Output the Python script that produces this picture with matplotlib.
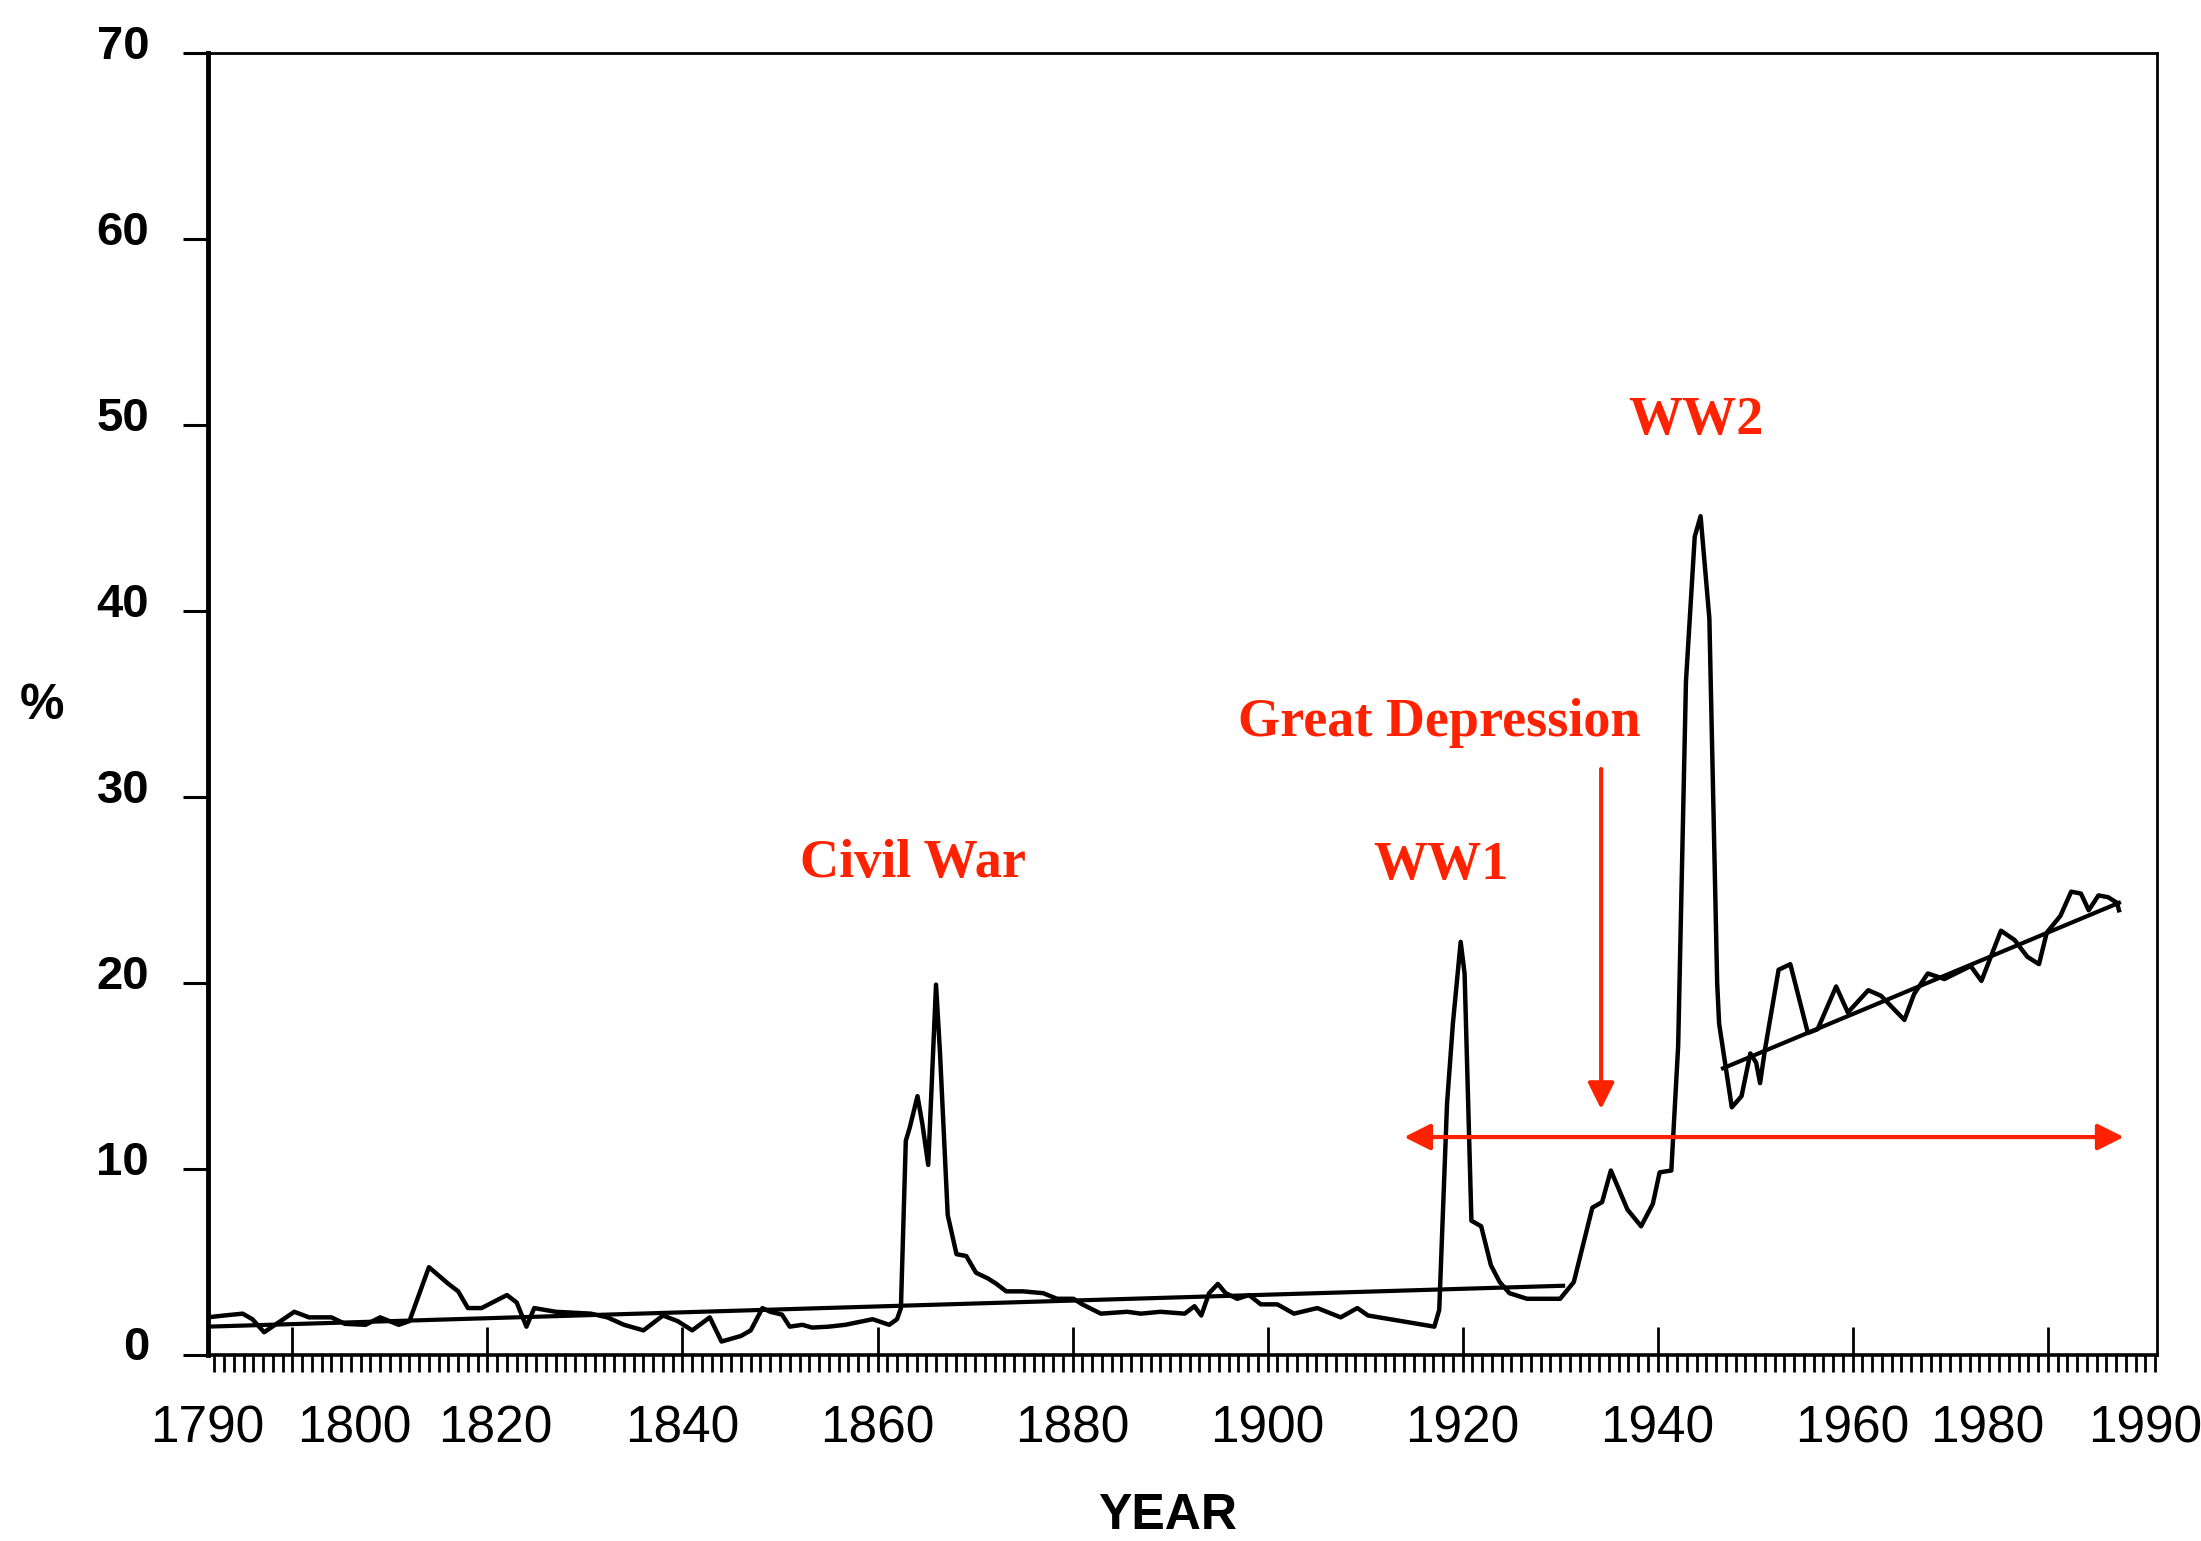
import matplotlib
matplotlib.use("Agg")
import matplotlib.pyplot as plt
from matplotlib.ticker import MultipleLocator, FixedLocator
from matplotlib.transforms import ScaledTranslation

# government spending share
years = [1791.3, 1793, 1794.9, 1795.9, 1797.1, 1800.2, 1801.7, 1804, 1805.4, 1807.5,
         1809, 1810.9, 1812, 1814, 1816, 1817, 1818, 1819.4, 1822, 1823,
         1824, 1824.8, 1827, 1830.6, 1832.3, 1834, 1836, 1838, 1839.5, 1841,
         1842.8, 1844, 1846, 1847, 1848.2, 1849, 1850.2, 1851, 1852.3, 1853.3,
         1855, 1856.7, 1859.5, 1861.2, 1862, 1862.4, 1862.9, 1863.3, 1864.1, 1864.6,
         1865.2, 1866.0, 1866.4, 1867.2, 1868.1, 1869.1, 1870.1, 1871.3, 1872.2, 1873.2,
         1874.9, 1877, 1878.4, 1880.1, 1881, 1882.9, 1885.6, 1887, 1889, 1891.5,
         1892.5, 1893.2, 1894, 1894.9, 1895.7, 1896.9, 1898.1, 1899.3, 1901, 1902.7,
         1905.1, 1907.5, 1909.2, 1910.3, 1913.7, 1917.1, 1917.6, 1918.4, 1919, 1919.8,
         1920.2, 1920.9, 1921.9, 1922.9, 1923.8, 1924.8, 1926.6, 1930, 1931.4, 1932.4,
         1933.3, 1934.3, 1935.2, 1936.9, 1938.3, 1939.5, 1940.2, 1941.4, 1942.1, 1942.9,
         1943.8, 1944.4, 1945.3, 1946.1, 1946.3, 1947.6, 1948.6, 1949.5, 1950.1, 1950.5,
         1951, 1952.4, 1953.6, 1955.4, 1956.4, 1958.3, 1959.5, 1961.6, 1962.9, 1965.3,
         1966.3, 1967.7, 1969.4, 1972.1, 1973.2, 1975.2, 1976.6, 1977.9, 1979.1, 1979.9,
         1981.3, 1982.4, 1983.4, 1984.2, 1985.2, 1986.2, 1987.1, 1987.3]
share = [2.0, 2.1, 2.2, 1.9, 1.2, 2.3, 2.0, 2.0, 1.65, 1.6,
         2.0, 1.6, 1.8, 4.7, 3.8, 3.4, 2.5, 2.5, 3.2, 2.8,
         1.5, 2.5, 2.3, 2.2, 2.0, 1.6, 1.3, 2.1, 1.8, 1.3,
         2.0, 0.7, 1.0, 1.3, 2.5, 2.3, 2.15, 1.5, 1.6, 1.45,
         1.5, 1.6, 1.9, 1.6, 1.9, 2.5, 11.5, 12.2, 13.9, 12.4,
         10.2, 19.9, 16.3, 7.5, 5.4, 5.3, 4.4, 4.1, 3.8, 3.4,
         3.4, 3.3, 3.0, 3.0, 2.7, 2.2, 2.3, 2.2, 2.3, 2.2,
         2.6, 2.1, 3.3, 3.8, 3.3, 3.0, 3.2, 2.7, 2.7, 2.2,
         2.5, 2.0, 2.5, 2.1, 1.8, 1.5, 2.4, 13.5, 17.8, 22.2,
         20.5, 7.2, 6.9, 4.8, 3.9, 3.3, 3.0, 3.0, 3.9, 6.0,
         7.9, 8.2, 9.9, 7.8, 6.9, 8.1, 9.8, 9.9, 16.6, 36.2,
         44.0, 45.1, 39.6, 20.0, 17.8, 13.3, 13.9, 16.2, 15.7, 14.6,
         16.4, 20.7, 21.0, 17.3, 17.5, 19.8, 18.4, 19.6, 19.3, 18.0,
         19.4, 20.5, 20.2, 20.9, 20.1, 22.8, 22.3, 21.4, 21.0, 22.7,
         23.6, 24.9, 24.8, 23.9, 24.7, 24.6, 24.3, 23.9]

trend_early_years = [1791.3, 1930.3]
trend_early = [1.5, 3.7]
trend_late_years = [1946.7, 1987.3]
trend_late = [15.4, 24.3]

# the printed year labels sit a little off their ticks in the original
label_years = [1791.3, 1806.4, 1820.8, 1840, 1860, 1880, 1900, 1920, 1940, 1960, 1973.8, 1990]
label_text = ["1790", "1800", "1820", "1840", "1860", "1880", "1900", "1920",
              "1940", "1960", "1980", "1990"]

events = ["Civil War", "WW1", "Great Depression", "WW2"]
event_x = [1863.6, 1917.8, 1917.6, 1943.9]
event_y = [26.4, 26.3, 34.0, 50.2]

RED = "#ff2200"

plt.rcParams["font.family"] = ["Liberation Sans", "DejaVu Sans"]

fig = plt.figure(figsize=(22.01, 15.41), dpi=100)
ax = fig.add_axes([0.0943, 0.121, 0.8857, 0.8444])

ax.plot(years, share, color="black", lw=3.2, solid_joinstyle="round")
ax.plot(trend_early_years, trend_early, color="black", lw=3.0)
ax.plot(trend_late_years, trend_late, color="black", lw=3.0)

ax.set_xlim(1791.3, 1991.2)
ax.set_ylim(0, 70)

# y axis
ax.set_yticks(range(0, 71, 10))
ax.tick_params(axis="y", direction="out", length=18, width=2.2, pad=24,
               labelsize=34)
for lab in ax.get_yticklabels():
    lab.set_fontweight("bold")
    lab.set_transform(lab.get_transform() + ScaledTranslation(0, 8 / 72, fig.dpi_scale_trans))

# x axis: yearly ticks below, 20-year ticks pointing up
ax.xaxis.set_major_locator(FixedLocator(range(1800, 1981, 20)))
ax.xaxis.set_minor_locator(MultipleLocator(1))
ax.xaxis.remove_overlapping_locs = False
ax.tick_params(axis="x", which="major", direction="in", length=20, width=2.0,
               labelbottom=False)
ax.tick_params(axis="x", which="minor", direction="out", length=12, width=2.0)

sec = ax.secondary_xaxis("bottom")
sec.set_xticks(label_years, labels=label_text)
sec.tick_params(length=0, pad=36, labelsize=37)
sec.spines["bottom"].set_visible(False)

ax.spines["left"].set_linewidth(3.5)
ax.spines["bottom"].set_linewidth(2.6)
ax.spines["top"].set_linewidth(2.0)
ax.spines["right"].set_linewidth(2.0)

fig.text(1168 / 2201, 1 - 1516 / 1541, "YEAR", ha="center", va="center",
         fontsize=36, fontweight="bold")
fig.text(42 / 2201, 1 - 706 / 1541, "%", ha="center", va="center",
         fontsize=36, fontweight="bold")

for name, x, y in zip(events, event_x, event_y):
    ax.text(x, y, name, color=RED, ha="center", va="center", fontsize=39,
            fontweight="bold", family=["Liberation Serif", "DejaVu Serif"])

ax.annotate("", xy=(1934.2, 13.2), xytext=(1934.2, 31.5),
            arrowprops=dict(arrowstyle="-|>", color=RED, lw=3, mutation_scale=40,
                            shrinkA=0, shrinkB=0))
ax.annotate("", xy=(1914.0, 11.7), xytext=(1987.8, 11.7),
            arrowprops=dict(arrowstyle="<|-|>", color=RED, lw=3, mutation_scale=40,
                            shrinkA=0, shrinkB=0))

fig.savefig("out.png", dpi=100, facecolor="white")
